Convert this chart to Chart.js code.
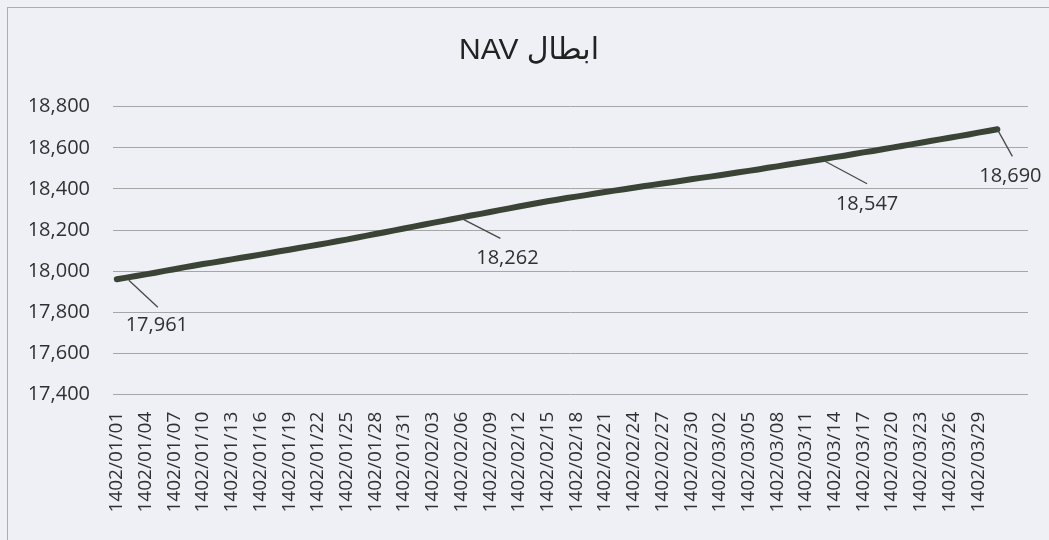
<!DOCTYPE html>
<html>
<head>
<meta charset="utf-8">
<title>NAV</title>
<script src="https://cdn.jsdelivr.net/npm/chart.js@4.4.1/dist/chart.umd.min.js"></script>
<style>
  html, body { margin: 0; padding: 0; background: #eff0f6; }
  canvas { display: block; }
</style>
</head>
<body>
<canvas id="navChart" width="1049" height="540"></canvas>
<script>
// chart data
const chartTitle = '\u202Bابطال NAV\u202C';

const dates = [
    '1402/01/01', '1402/01/02', '1402/01/03', '1402/01/04', '1402/01/05', '1402/01/06', '1402/01/07', '1402/01/08',
    '1402/01/09', '1402/01/10', '1402/01/11', '1402/01/12', '1402/01/13', '1402/01/14', '1402/01/15', '1402/01/16',
    '1402/01/17', '1402/01/18', '1402/01/19', '1402/01/20', '1402/01/21', '1402/01/22', '1402/01/23', '1402/01/24',
    '1402/01/25', '1402/01/26', '1402/01/27', '1402/01/28', '1402/01/29', '1402/01/30', '1402/01/31',
    '1402/02/01', '1402/02/02', '1402/02/03', '1402/02/04', '1402/02/05', '1402/02/06', '1402/02/07', '1402/02/08',
    '1402/02/09', '1402/02/10', '1402/02/11', '1402/02/12', '1402/02/13', '1402/02/14', '1402/02/15', '1402/02/16',
    '1402/02/17', '1402/02/18', '1402/02/19', '1402/02/20', '1402/02/21', '1402/02/22', '1402/02/23', '1402/02/24',
    '1402/02/25', '1402/02/26', '1402/02/27', '1402/02/28', '1402/02/29', '1402/02/30', '1402/02/31',
    '1402/03/01', '1402/03/02', '1402/03/03', '1402/03/04', '1402/03/05', '1402/03/06', '1402/03/07', '1402/03/08',
    '1402/03/09', '1402/03/10', '1402/03/11', '1402/03/12', '1402/03/13', '1402/03/14', '1402/03/15', '1402/03/16',
    '1402/03/17', '1402/03/18', '1402/03/19', '1402/03/20', '1402/03/21', '1402/03/22', '1402/03/23', '1402/03/24',
    '1402/03/25', '1402/03/26', '1402/03/27', '1402/03/28', '1402/03/29', '1402/03/30', '1402/03/31'
];

const navValues = [
    17961, 17969, 17977, 17985, 17993, 18002, 18010, 18019, 18027, 18035,
    18042, 18050, 18058, 18066, 18073, 18081, 18089, 18097, 18105, 18113,
    18121, 18129, 18137, 18146, 18154, 18163, 18172, 18181, 18190, 18199,
    18208, 18217, 18226, 18235, 18244, 18253, 18262, 18271, 18279, 18288,
    18297, 18306, 18315, 18323, 18332, 18340, 18348, 18356, 18363, 18370,
    18378, 18385, 18392, 18399, 18406, 18413, 18420, 18427, 18433, 18440,
    18447, 18454, 18460, 18467, 18474, 18481, 18488, 18495, 18503, 18510,
    18518, 18525, 18532, 18540, 18547, 18555, 18562, 18570, 18578, 18585,
    18593, 18601, 18609, 18617, 18625, 18633, 18641, 18649, 18657, 18665,
    18674, 18682, 18690
];

// points that carry a value label
const labelledPoints = [0, 36, 74, 92];

const yMin = 17400;
const yMax = 18800;
const yStep = 200;
const xStep = 3; // a date label every third day

const numberFormat = new Intl.NumberFormat('en-US');

Chart.defaults.font.family = "'Open Sans', 'DejaVu Sans', sans-serif";
Chart.defaults.color = '#303030';

// scanned paper background and the outer frame
const paperPlugin = {
    id: 'paper',
    beforeDraw(chart) {
        const ctx = chart.ctx;
        ctx.save();
        ctx.fillStyle = '#eff0f6';
        ctx.fillRect(0, 0, chart.width, chart.height);
        ctx.strokeStyle = '#adadad';
        ctx.lineWidth = 1;
        ctx.strokeRect(7.5, 7.5, chart.width + 20, chart.height + 20);
        ctx.restore();
    }
};

// value labels with leader lines, like the Excel data callouts
const leaderLabels = {
    id: 'leaderLabels',
    afterDatasetsDraw(chart, args, opts) {
        const ctx = chart.ctx;
        const meta = chart.getDatasetMeta(0);
        ctx.save();
        ctx.font = opts.font;
        ctx.fillStyle = opts.color;
        ctx.strokeStyle = opts.lineColor;
        ctx.lineWidth = 1.3;
        ctx.textAlign = 'center';
        ctx.textBaseline = 'middle';
        opts.items.forEach((item, i) => {
            const idx = labelledPoints[i];
            const pt = meta.data[idx];
            ctx.beginPath();
            ctx.moveTo(pt.x + item.from[0], pt.y + item.from[1]);
            ctx.lineTo(pt.x + item.to[0], pt.y + item.to[1]);
            ctx.stroke();
            ctx.fillText(numberFormat.format(navValues[idx]), pt.x + item.text[0], pt.y + item.text[1]);
        });
        ctx.restore();
    }
};

const ctx = document.getElementById('navChart').getContext('2d');

new Chart(ctx, {
    type: 'line',
    data: {
        datasets: [{
            label: 'NAV',
            data: navValues.map((v, i) => ({ x: i, y: v })),
            borderColor: '#3a4436',
            borderWidth: 6,
            pointRadius: 0,
            tension: 0,
            borderCapStyle: 'round'
        }]
    },
    options: {
        responsive: false,
        animation: false,
        locale: 'en-US',
        layout: {
            padding: { left: 30, right: 21, top: 0, bottom: 0 }
        },
        plugins: {
            legend: { display: false },
            tooltip: { enabled: false },
            title: {
                display: true,
                text: chartTitle,
                color: '#222',
                font: { family: "'Liberation Sans', Arial, 'DejaVu Sans', sans-serif", size: 30, weight: 'normal' },
                padding: { top: 33, bottom: 37.7 }
            },
            leaderLabels: {
                font: "20px 'Open Sans', sans-serif",
                color: '#303030',
                lineColor: '#484848',
                items: [
                    { from: [12, 1], to: [41, 28], text: [40, 46] },
                    { from: [0, 1], to: [39, 21], text: [46, 41] },
                    { from: [-1, 2], to: [42, 25], text: [42, 46] },
                    { from: [0, 0], to: [15, 27], text: [13, 47] }
                ]
            }
        },
        scales: {
            x: {
                type: 'linear',
                min: -0.4,
                max: 95.2,
                grid: { display: false },
                border: { display: false },
                ticks: {
                    stepSize: xStep,
                    includeBounds: false,
                    autoSkip: false,
                    minRotation: 90,
                    maxRotation: 90,
                    padding: 9,
                    font: { size: 19 },
                    callback: (value) => dates[value] || ''
                },
                afterFit: (scale) => { scale.height = 145.3; }
            },
            y: {
                min: yMin,
                max: yMax,
                grid: { color: '#a6a6a6', lineWidth: 1, drawTicks: false },
                border: { display: false },
                ticks: {
                    stepSize: yStep,
                    padding: 23,
                    font: { size: 20 }
                },
                afterFit: (scale) => { scale.width = 83; }
            }
        }
    },
    plugins: [paperPlugin, leaderLabels]
});
</script>
</body>
</html>
